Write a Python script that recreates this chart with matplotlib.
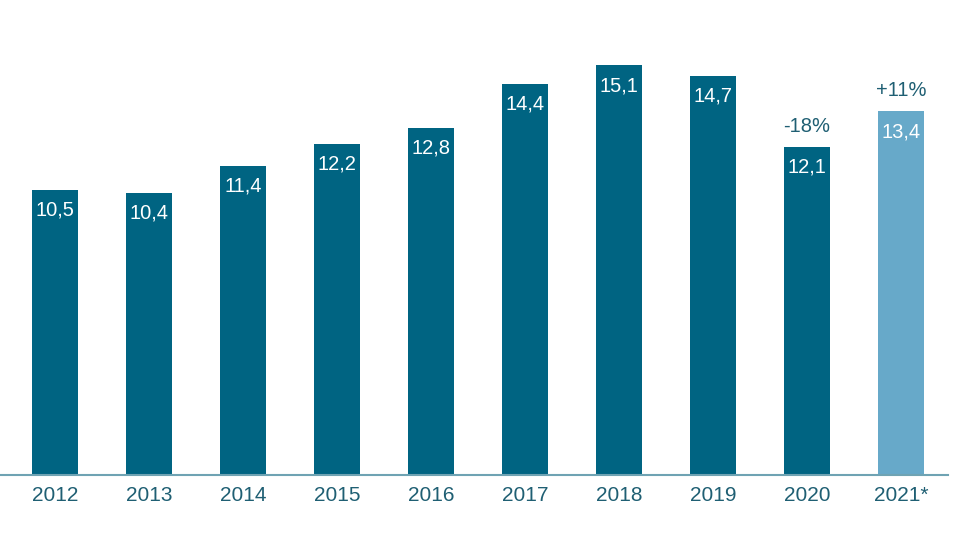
import matplotlib
matplotlib.use("Agg")
import matplotlib.pyplot as plt

years = ["2012", "2013", "2014", "2015", "2016", "2017", "2018", "2019", "2020", "2021*"]
values = [10.5, 10.4, 11.4, 12.2, 12.8, 14.4, 15.1, 14.7, 12.1, 13.4]
changes = {8: "-18%", 9: "+11%"}

dark = "#006482"
light = "#67A9C9"
txt = "#1F5F73"

plt.rcParams['font.family'] = ['Liberation Sans', 'DejaVu Sans']

fig = plt.figure(figsize=(9.6, 5.4), dpi=100)
ax = fig.add_axes([0, 65/540, 948/960, 475/540])

x = list(range(len(values)))
colors = [dark]*9 + [light]
ax.bar(x, values, width=0.49, color=colors, zorder=2)

for i, v in enumerate(values):
    ax.text(i, v - 0.4, f"{v:.1f}".replace(".", ","), ha="center", va="top",
            color="white", fontsize=14.5)
for i, s in changes.items():
    ax.text(i, values[i] + 0.4, s, ha="center", va="bottom", color=txt, fontsize=14.5)

ax.set_xlim(-55/94, (948-55)/94)
ax.set_ylim(0, 17.5)
for sp in ["top", "right", "left"]:
    ax.spines[sp].set_visible(False)
ax.spines["bottom"].set_color("#6FA3B3")
ax.spines["bottom"].set_linewidth(1.5)
ax.set_yticks([])
ax.set_xticks(x)
ax.set_xticklabels(years, fontsize=15, color=txt)
ax.tick_params(axis="x", length=0, pad=8)

fig.savefig("out.png", dpi=100)
